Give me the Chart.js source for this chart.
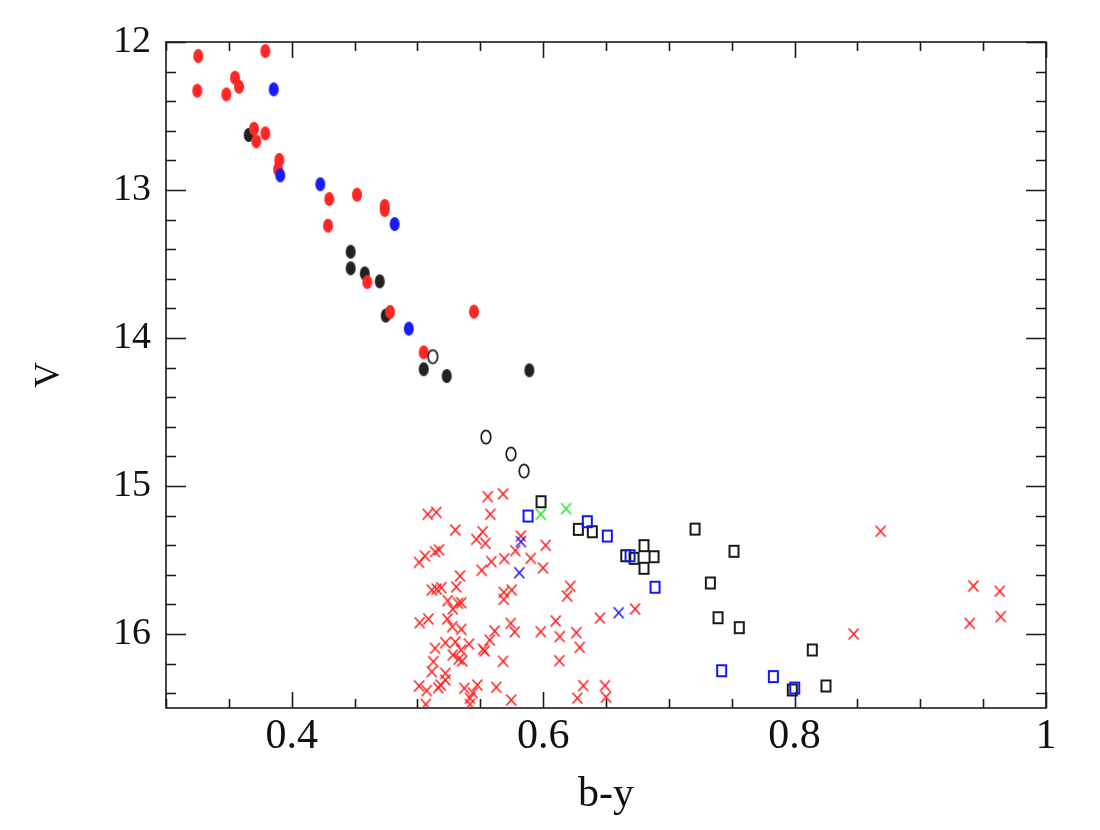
<!DOCTYPE html>
<html>
<head>
<meta charset="utf-8">
<script src="https://cdn.jsdelivr.net/npm/chart.js@4/dist/chart.umd.min.js"></script>
<style>
  html, body { margin: 0; padding: 0; background: #ffffff; }
  #wrap { width: 1100px; height: 830px; }
</style>
</head>
<body>
<div id="wrap"><canvas id="c" width="1100" height="830"></canvas></div>
<script>
// ---------------- data (b-y, V) ----------------
const redFilled = [
  [0.3257,12.095],[0.3790,12.061],[0.3249,12.329],[0.3480,12.354],[0.3549,12.241],
  [0.3581,12.302],[0.3700,12.586],[0.3718,12.671],[0.3790,12.617],[0.3901,12.797],
  [0.3891,12.860],[0.4299,13.061],[0.4519,13.032],[0.4740,13.108],[0.4740,13.135],
  [0.4289,13.241],[0.4601,13.622],[0.4782,13.824],[0.5450,13.822],[0.5050,14.097]
];
const blueFilled = [
  [0.3857,12.320],[0.3909,12.901],[0.4227,12.961],[0.4819,13.230],[0.4931,13.937]
];
const blackFilled = [
  [0.3658,12.628],[0.4469,13.417],[0.4469,13.529],[0.4581,13.563],[0.4700,13.617],
  [0.4748,13.849],[0.5050,14.211],[0.5233,14.257],[0.5890,14.218]
];
const blackOpenCircles = [
  [0.5122,14.126],[0.5545,14.669],[0.5744,14.784],[0.5848,14.899]
];
const blackSquares = [
  [0.5983,15.106],[0.6280,15.293],[0.6391,15.309],[0.6802,15.403],[0.6657,15.471],
  [0.6723,15.489],[0.6882,15.478],[0.6802,15.556],[0.7208,15.291],[0.7518,15.441],
  [0.7330,15.655],[0.7391,15.890],[0.7560,15.957],[0.8141,16.108],[0.8250,16.351],
  [0.7982,16.378]
];
const blueSquares = [
  [0.5880,15.203],[0.6351,15.241],[0.6510,15.338],[0.6691,15.471],[0.6890,15.684],
  [0.7420,16.248],[0.7831,16.288],[0.8001,16.365]
];
const blueCrosses = [
  [0.5823,15.376],[0.5810,15.586],[0.6601,15.856]
];
const greenCrosses = [
  [0.5981,15.191],[0.6182,15.153]
];
const redCrosses = [
  [0.5559,15.072],[0.5681,15.054],[0.5082,15.191],[0.5150,15.178],[0.5580,15.191],
  [0.5301,15.297],[0.5519,15.309],[0.5468,15.360],[0.5540,15.387],[0.5822,15.338],
  [0.6020,15.401],[0.5060,15.473],[0.5013,15.516],[0.5140,15.444],[0.5172,15.432],
  [0.5779,15.437],[0.5691,15.491],[0.5588,15.511],[0.5901,15.489],[0.5511,15.570],
  [0.5999,15.554],[0.5339,15.608],[0.5114,15.703],[0.5153,15.696],[0.5190,15.687],
  [0.5309,15.682],[0.5241,15.775],[0.5323,15.793],[0.5349,15.789],[0.5281,15.831],
  [0.5687,15.718],[0.5687,15.766],[0.5750,15.703],[0.6216,15.678],[0.6190,15.743],
  [0.5018,15.924],[0.5087,15.899],[0.5238,15.899],[0.5277,15.951],[0.5349,15.968],
  [0.5615,15.980],[0.5742,15.928],[0.5774,15.986],[0.5981,15.984],[0.6100,15.912],
  [0.6132,16.018],[0.6264,15.991],[0.6291,16.090],[0.6452,15.892],[0.6731,15.831],
  [0.5222,16.059],[0.5301,16.054],[0.5140,16.097],[0.5410,16.068],[0.5522,16.103],
  [0.5535,16.115],[0.5575,16.041],[0.5347,16.108],[0.5281,16.142],[0.5357,16.182],
  [0.5328,16.171],[0.5126,16.187],[0.5114,16.255],[0.5222,16.266],[0.5681,16.184],
  [0.6129,16.180],[0.5013,16.351],[0.5074,16.383],[0.5166,16.363],[0.5185,16.345],
  [0.5222,16.311],[0.5373,16.367],[0.5476,16.345],[0.5418,16.434],[0.5440,16.397],
  [0.5627,16.360],[0.5746,16.446],[0.5066,16.475],[0.5418,16.475],[0.6319,16.349],
  [0.6272,16.434],[0.6492,16.349],[0.6500,16.426],[0.8470,16.000],[0.8685,15.306],
  [0.9422,15.676],[0.9632,15.711],[0.9640,15.883],[0.9393,15.928]
];
const xTickValues = [0.4, 0.6, 0.8, 1.0];
const xTickLabels = ['0.4', '0.6', '0.8', '1'];
const yTickValues = [12, 13, 14, 15, 16];
const yTickLabels = ['12', '13', '14', '15', '16'];
const xRange = [0.3, 1.0];
const yRange = [12, 16.5];

// ---------------- marker images ----------------
function ellipseMarker(color, filled) {
  const c = document.createElement('canvas'); c.width = 14; c.height = 18;
  const g = c.getContext('2d');
  g.beginPath(); g.ellipse(7, 9, filled ? 5.0 : 4.8, filled ? 7.0 : 6.6, 0, 0, Math.PI * 2);
  if (filled) { g.fillStyle = color; g.fill(); }
  else { g.strokeStyle = color; g.lineWidth = 1.7; g.stroke(); }
  return c;
}
function squareMarker(color) {
  const c = document.createElement('canvas'); c.width = 13; c.height = 15;
  const g = c.getContext('2d');
  g.strokeStyle = color; g.lineWidth = 2; g.strokeRect(2, 2, 9, 11);
  return c;
}
function crossMarker(color) {
  const c = document.createElement('canvas'); c.width = 13; c.height = 14;
  const g = c.getContext('2d');
  g.strokeStyle = color; g.lineWidth = 1.5;
  g.beginPath();
  g.moveTo(1.5, 1.5); g.lineTo(11.5, 12.5);
  g.moveTo(11.5, 1.5); g.lineTo(1.5, 12.5);
  g.stroke();
  return c;
}
const toPts = arr => arr.map(p => ({ x: p[0], y: p[1] }));

function ds(label, arr, marker, order) {
  return { label, data: toPts(arr), pointStyle: marker, pointRadius: 6, pointHoverRadius: 6, showLine: false, order };
}

// ---------------- frame + inward ticks ----------------
const frameTicks = {
  id: 'frameTicks',
  beforeDatasetsDraw(chart) {
    const { ctx, chartArea: { left, right, top, bottom }, scales: { x, y } } = chart;
    ctx.save();
    ctx.strokeStyle = '#1a1a1a';
    ctx.lineWidth = 1.6;
    ctx.strokeRect(left, top, right - left, bottom - top);
    ctx.beginPath();
    for (let i = 0; ; i++) {
      const v = x.min + i * 0.05;
      if (v > x.max + 1e-9) break;
      const px = Math.round(x.getPixelForValue(v)) + 0.5;
      const major = xTickValues.some(t => Math.abs(t - v) < 1e-6);
      const len = major ? 16 : 9;
      ctx.moveTo(px, bottom); ctx.lineTo(px, bottom - len);
      ctx.moveTo(px, top); ctx.lineTo(px, top + len);
    }
    for (let i = 0; ; i++) {
      const v = y.min + i * 0.2;
      if (v > y.max + 1e-9) break;
      const py = Math.round(y.getPixelForValue(v)) + 0.5;
      const major = yTickValues.some(t => Math.abs(t - v) < 1e-6);
      const len = major ? 20 : 10;
      ctx.moveTo(left, py); ctx.lineTo(left + len, py);
      ctx.moveTo(right, py); ctx.lineTo(right - len, py);
    }
    ctx.stroke();
    ctx.restore();
  }
};

Chart.defaults.font.family = "'Liberation Serif', 'DejaVu Serif', serif";
Chart.defaults.color = '#111';

new Chart(document.getElementById('c'), {
  type: 'scatter',
  data: {
    datasets: [
      ds('blue x', blueCrosses, crossMarker('#1414ff'), 0),
      ds('green x', greenCrosses, crossMarker('#1ee61e'), 1),
      ds('blue squares', blueSquares, squareMarker('#1414ff'), 2),
      ds('black squares', blackSquares, squareMarker('#1a1a1a'), 3),
      ds('red x', redCrosses, crossMarker('#ff1a1a'), 4),
      ds('open circles', blackOpenCircles, ellipseMarker('#1a1a1a', false), 5),
      ds('blue filled', blueFilled, ellipseMarker('#1a1aff', true), 6),
      ds('red filled', redFilled, ellipseMarker('#ff2626', true), 7),
      ds('black filled', blackFilled, ellipseMarker('#222222', true), 8)
    ]
  },
  options: {
    responsive: false,
    animation: false,
    layout: { padding: { top: 42, right: 54, left: 0, bottom: 0 } },
    plugins: { legend: { display: false }, tooltip: { enabled: false } },
    scales: {
      x: {
        type: 'linear', min: xRange[0], max: xRange[1],
        grid: { display: false, drawTicks: false },
        border: { display: false },
        afterFit: s => { s.height = 122; },
        afterBuildTicks: s => { s.ticks = xTickValues.map(v => ({ value: v })); },
        ticks: {
          font: { size: 42 }, padding: 4, maxRotation: 0, autoSkip: false,
          callback: (v) => { const i = xTickValues.findIndex(t => Math.abs(t - v) < 1e-6); return i >= 0 ? xTickLabels[i] : ''; }
        },
        title: { display: true, text: 'b-y', font: { size: 42 }, padding: { top: 0, bottom: 10 } }
      },
      y: {
        type: 'linear', min: yRange[0], max: yRange[1], reverse: true,
        grid: { display: false, drawTicks: false },
        border: { display: false },
        afterFit: s => { s.width = 166; },
        afterBuildTicks: s => { s.ticks = yTickValues.map(v => ({ value: v })); },
        ticks: {
          font: { size: 38 }, padding: 15, autoSkip: false,
          callback: (v) => { const i = yTickValues.findIndex(t => Math.abs(t - v) < 1e-6); return i >= 0 ? yTickLabels[i] : ''; }
        },
        title: { display: true, text: 'V', font: { size: 36 }, padding: { top: 28, bottom: 0 } }
      }
    }
  },
  plugins: [frameTicks]
});
</script>
</body>
</html>
